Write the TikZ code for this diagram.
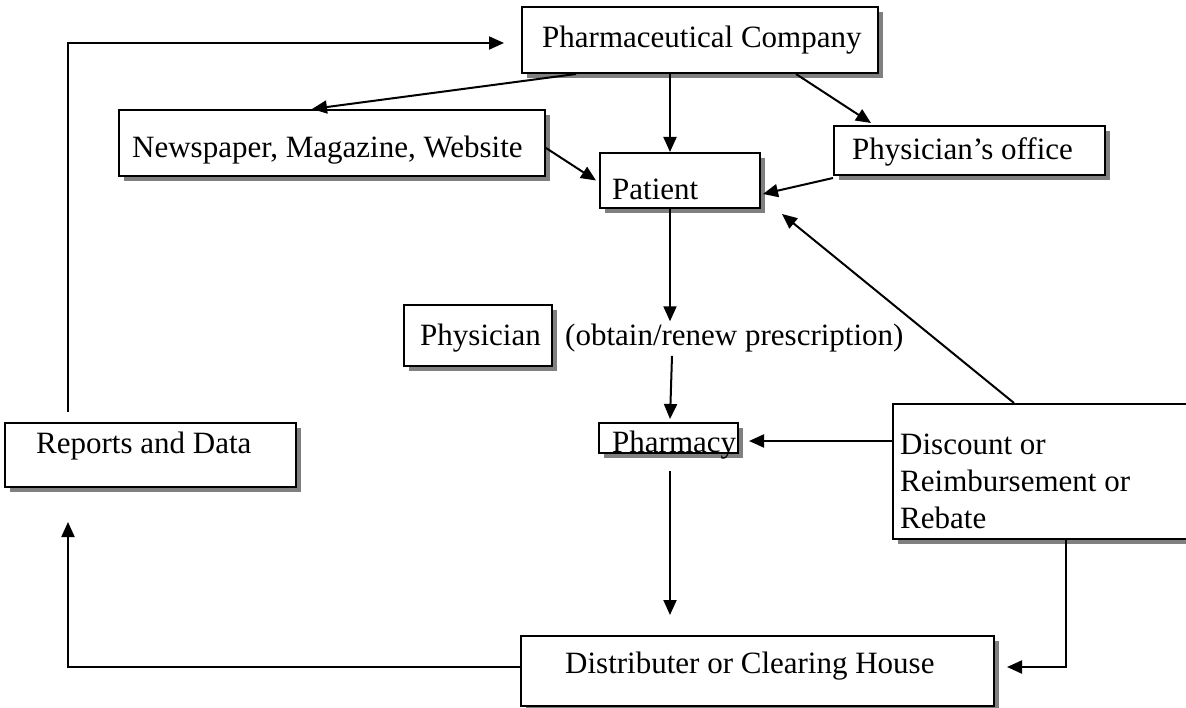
\documentclass[tikz,border=0pt]{standalone}
\usepackage{fontspec}
\setmainfont{Liberation Serif}
\usetikzlibrary{arrows.meta,shadows}
\begin{document}
\begin{tikzpicture}[x=1pt,y=-1pt,
  box/.style={draw=black, line width=2pt, fill=white, rectangle, inner sep=0pt,
    drop shadow={shadow xshift=5pt, shadow yshift=-5pt, fill=black!50, opacity=1}},
  txt/.style={inner sep=0pt, font=\fontsize{31}{37}\selectfont},
  conn/.style={line width=2pt, -{Triangle[length=15pt,width=13pt]}},
  plainline/.style={line width=2pt}]
\useasboundingbox (0,0) rectangle (1186,708);
\clip (0,0) rectangle (1186,708);
% boxes
\node[box, minimum width=356pt, minimum height=66pt] (pharma) at (700,40) {};
\node[box, minimum width=426pt, minimum height=66pt] (news) at (332,143) {};
\node[box, minimum width=160pt, minimum height=55pt] (patient) at (680,180.5) {};
\node[box, minimum width=271pt, minimum height=49pt] (office) at (969.5,150.5) {};
\node[box, minimum width=148pt, minimum height=61pt] (physician) at (478,335.5) {};
\node[box, minimum width=139pt, minimum height=30pt] (pharmacy) at (668.5,438) {};
\node[box, minimum width=337pt, minimum height=135pt] (discount) at (1061.5,471.5) {};
\node[box, minimum width=291pt, minimum height=64pt] (reports) at (150.5,455) {};
\node[box, minimum width=473pt, minimum height=70pt] (distrib) at (757.5,671) {};
% texts
\node[txt, anchor=base west] (pharmaT) at (542,48) {Pharmaceutical Company};
\node[txt, anchor=base west] (newsT) at (132,158) {Newspaper, Magazine, Website};
\node[txt, anchor=base west] (patientT) at (612,200) {Patient};
\node[txt, anchor=base west] (officeT) at (852,160) {Physician’s office};
\node[txt, anchor=base west] (physicianT) at (420,346) {Physician};
\node[txt, anchor=base west] (obtain) at (565,346) {(obtain/renew prescription)};
\node[txt, anchor=base west] (pharmacyT) at (612,452) {Pharmacy};
\node[txt, anchor=base west] (discT1) at (900,454) {Discount or};
\node[txt, anchor=base west] (discT2) at (900,491) {Reimbursement or};
\node[txt, anchor=base west] (discT3) at (900,528) {Rebate};
\node[txt, anchor=base west] (reportsT) at (36,453) {Reports and Data};
\node[txt, anchor=base west] (distribT) at (565,673) {Distributer or Clearing House};
% columns
\coordinate (colC) at (670,0);
\coordinate (colR) at (1066,0);
\coordinate (colL) at (68,0);
\coordinate (rowP) at (0,441);
% connectors
\draw[conn] ([yshift=10pt]reports.north -| colL) |- ([xshift=-17pt,yshift=-3pt]pharma.west);
\draw[conn] ([xshift=55pt]pharma.south west) -- ([xshift=-20pt]news.north);
\draw[conn] (pharma.south -| colC) -- (patient.north -| colC);
\draw[conn] ([xshift=-83pt]pharma.south east) -- ([xshift=38pt,yshift=2pt]office.north west);
\draw[conn] ([yshift=-5pt]news.east) -- ([xshift=-3pt]patient.west);
\draw[conn] ([yshift=-2pt]office.south west) -- ([xshift=2pt,yshift=-13.5pt]patient.east);
\draw[conn] ([xshift=122pt]discount.north west) -- ([xshift=21pt,yshift=-5pt]patient.south east);
\draw[conn] (patient.south -| colC) -- ([yshift=3pt]obtain.north -| colC);
\draw[conn] ([xshift=2pt,yshift=-3pt]obtain.south -| colC) -- ([yshift=3pt]pharmacy.north -| colC);
\draw[conn] (discount.west |- rowP) -- ([xshift=10pt]pharmacy.east |- rowP);
\draw[conn] ([yshift=-17pt]pharmacy.south -| colC) -- ([yshift=20pt]distrib.north -| colC);
\draw[conn] (discount.south -| colR) |- ([xshift=12pt,yshift=4pt]distrib.east);
\draw[conn] ([yshift=4pt]distrib.west) -| ([yshift=-34pt]reports.south -| colL);
\end{tikzpicture}
\end{document}
